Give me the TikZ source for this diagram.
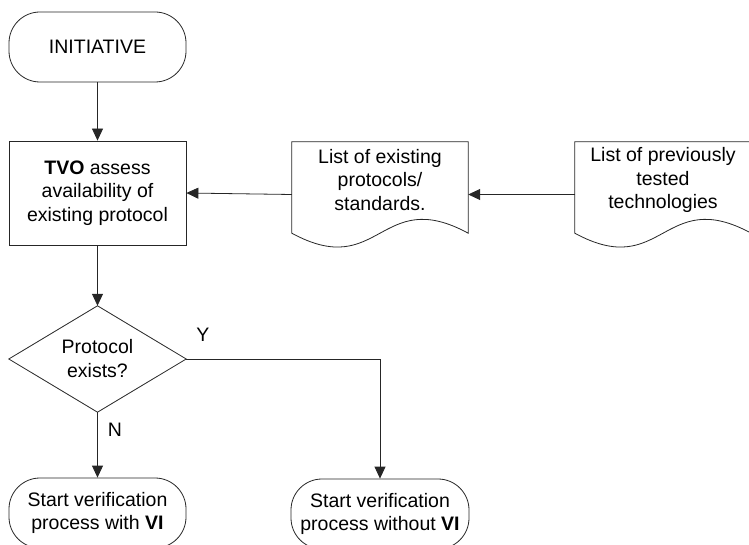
\documentclass[tikz,border=0pt]{standalone}
\usepackage{fontspec}
\setmainfont{Liberation Sans}
\usetikzlibrary{arrows.meta,calc}

\tikzset{
  base/.style={font=\fontsize{19.5}{23.5}\selectfont, align=center, inner sep=0pt},
  line/.style={draw=black!85, line width=0.8pt},
  flow/.style={line, -{Triangle[length=12pt,width=11pt]}},
  terminal/.style={base, line, rectangle, rounded corners=31pt, minimum height=70pt},
  process/.style={base, line, rectangle, minimum width=177pt, minimum height=104pt},
  frame/.style={base, rectangle},
  txt/.style={base},
}

% document symbol with a wavy lower edge, drawn around a frame node
\newcommand{\docpath}[1]{%
  \draw[line] ($(#1.south west)+(0,-14)$) -- (#1.north west) -- (#1.north east)
    -- ($(#1.south east)+(0,-14)$)
    .. controls ($(#1.south)+(0,-62)$) and ($(#1.south)+(0,34)$)
    .. ($(#1.south west)+(0,-14)$) -- cycle;}

\begin{document}
\begin{tikzpicture}[x=1pt,y=-1pt]
  \useasboundingbox (0,0) rectangle (749,545);

  % start
  \node[terminal, minimum width=177pt] (init) at (97.5,47) {INITIATIVE};

  % assessment step
  \node[process] (assess) at (97.5,193)
    {\textbf{TVO} assess\\availability of\\existing protocol};

  % input documents
  \node[frame, minimum width=176pt, minimum height=105pt] (doc1) at (380,194.5) {};
  \docpath{doc1}
  \node[txt] (doc1text) at (380,180) {List of existing\\protocols/\\standards.};

  \node[frame, minimum width=176pt, minimum height=105pt] (doc2) at (663,194.5) {};
  \docpath{doc2}
  \node[txt] (doc2text) at (663,180) {List of previously\\tested\\technologies};

  % decision
  \node[frame, minimum width=177pt, minimum height=106pt] (dec) at (97.5,359) {};
  \draw[line] (dec.north) -- (dec.east) -- (dec.south) -- (dec.west) -- cycle;
  \node[txt] (dectext) at (97.5,358.5) {Protocol\\exists?};

  % outcomes
  \node[terminal, minimum width=177pt] (withvi) at (97.5,513)
    {Start verification\\process with \textbf{VI}};
  \node[terminal, minimum width=178pt] (withoutvi) at (380,514)
    {Start verification\\process without \textbf{VI}};

  % connectors
  \draw[flow] (init.south) -- (assess.north);
  \draw[flow] (doc1.west) -- (assess.east);
  \draw[flow] (doc2.west) -- (doc1.east);
  \draw[flow] (assess.south) -- (dec.north);
  \draw[flow] (dec.south) -- (withvi.north);
  \draw[flow] (dec.east) -| (withoutvi.north);

  % branch labels
  \node[txt] (ylabel) at (203,335) {Y};
  \node[txt] (nlabel) at (115,430) {N};
\end{tikzpicture}
\end{document}
